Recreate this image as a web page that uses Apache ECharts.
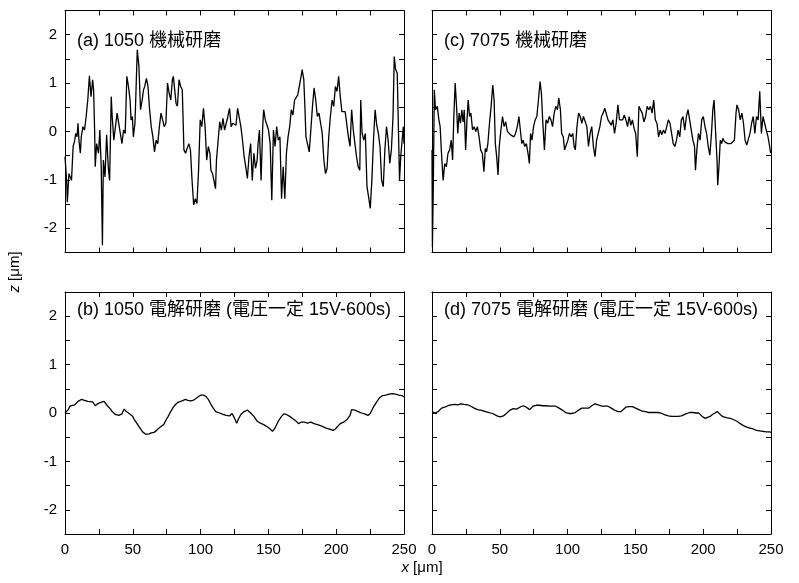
<!DOCTYPE html>
<html>
<head>
<meta charset="utf-8">
<script src="https://cdn.jsdelivr.net/npm/echarts@6/dist/echarts.min.js"></script>
<style>
html,body{margin:0;padding:0;background:#fff;}
#chart{width:799px;height:583px;}
</style>
</head>
<body>
<div id="chart"></div>
<script>
// Panel titles
const panelTitles = ['(a) 1050 機械研磨', '(c) 7075 機械研磨', '(b) 1050 電解研磨 (電圧一定 15V-600s)', '(d) 7075 電解研磨 (電圧一定 15V-600s)'];
const xTicks = [0, 50, 100, 150, 200, 250];
const yTicks = [-2, -1, 0, 1, 2];

// (a) 1050 mechanical polishing : [x (µm), z (µm)]
const profileA = [
[0,-0.52],[1.2,-1.01],[1.7,-1.46],[2.9,-0.87],[4.8,-1.01],[6.0,-0.31],[7.2,-0.18],[7.9,-0.04],[8.9,-0.11],[9.6,0.17],
[10.3,-0.18],[11.3,-0.45],[12.0,-0.11],[13.2,0.10],[14.4,0.03],[15.6,0.31],[16.8,0.65],[18.0,1.15],[19.2,0.72],[20.4,1.07],
[21.1,0.86],[21.9,-0.04],[22.3,-0.73],[23.3,-0.25],[24.7,-0.45],[25.7,0.03],[26.7,-0.73],[27.6,-2.35],[28.3,-0.59],[29.5,-0.94],
[30.7,-0.07],[31.9,-0.73],[32.9,-1.01],[34.1,0.72],[34.8,0.31],[36.0,-0.18],[37.2,0.10],[38.4,0.38],[39.6,0.41],[40.8,-0.04],
[42.0,-0.25],[43.2,0.03],[44.4,-0.04],[45.6,1.14],[46.8,0.93],[48.0,0.65],[48.7,0.24],[49.7,0.31],[50.4,-0.11],[51.6,0.17],
[52.3,0.79],[53.3,1.69],[54.5,1.35],[55.7,0.45],[56.9,0.65],[57.9,0.86],[58.8,0.93],[60.0,1.10],[61.2,0.93],[62.4,0.45],
[63.6,0.10],[64.8,-0.11],[66.0,-0.42],[67.2,-0.18],[68.4,-0.25],[69.6,0.10],[70.8,0.38],[72.0,0.24],[73.2,0.10],[74.4,0.17],
[75.6,1.00],[76.8,0.79],[78.0,0.65],[79.2,1.07],[79.9,1.14],[80.9,0.86],[81.9,0.58],[82.9,0.52],[84.1,1.07],[85.3,0.93],
[86.5,0.86],[87.7,-0.38],[88.9,-0.45],[90.1,-0.45],[91.3,-0.25],[92.5,-0.38],[93.7,-1.01],[94.9,-1.52],[96.1,-1.39],[97.3,-1.49],
[98.5,-0.80],[99.7,0.24],[100.9,0.10],[102.1,0.48],[103.3,0.10],[104.5,-0.59],[105.7,-0.31],[106.9,-0.45],[107.6,-0.80],[108.8,-0.87],
[109.8,-1.01],[111.0,-1.18],[111.7,-0.59],[114.1,0.20],[115.3,0.03],[116.5,0.27],[117.7,0.03],[118.9,0.17],[120.1,0.31],[121.3,0.48],
[122.5,0.10],[123.7,0.17],[124.9,0.20],[126.1,0.13],[127.3,0.48],[128.5,0.45],[129.7,0.10],[130.9,-0.18],[132.1,-0.52],[133.3,-0.73],
[134.5,-0.97],[135.7,-0.52],[136.9,-0.25],[138.1,-1.01],[139.3,-0.45],[140.5,-0.76],[141.7,-0.59],[142.4,-0.25],[143.4,0.03],[144.6,-1.01],
[145.8,0.10],[146.5,0.45],[147.7,0.24],[148.9,0.20],[150.1,0.03],[151.3,-0.25],[152.5,-1.42],[153.7,0.03],[154.9,-0.31],[156.1,0.10],
[157.3,-0.18],[158.5,-0.11],[159.7,-1.39],[160.9,-0.73],[162.1,-1.39],[163.3,-0.45],[164.5,-0.11],[165.7,0.10],[166.9,0.45],[168.1,0.34],
[169.3,0.65],[170.5,0.69],[171.7,0.76],[172.9,0.72],[174.1,1.14],[174.9,1.28],[176.1,1.07],[177.0,0.45],[177.7,-0.11],[178.9,-0.14],
[180.1,-0.42],[181.3,0.03],[182.5,0.52],[183.7,0.90],[184.9,0.65],[186.1,0.31],[187.3,0.38],[188.5,0.17],[189.7,-0.04],[190.9,-0.59],
[192.1,-0.87],[193.3,-0.76],[194.5,-0.11],[195.7,0.31],[197.0,0.65],[198.2,0.52],[199.4,0.93],[200.6,0.83],[201.8,1.14],[203.0,0.72],
[204.2,0.41],[205.4,0.45],[206.6,0.41],[207.8,0.38],[209.0,-0.11],[210.2,-0.31],[211.4,0.45],[212.6,0.03],[213.8,-0.25],[215.0,-0.52],
[216.2,-0.73],[217.4,-0.80],[218.1,0.65],[219.1,-0.04],[220.3,-0.18],[221.5,-0.04],[222.7,-1.14],[223.9,-1.35],[225.1,-1.59],[226.3,-1.01],
[227.5,-0.18],[228.7,0.45],[229.9,0.13],[231.1,-0.04],[232.3,-0.31],[233.5,-1.01],[234.7,-1.14],[235.9,-0.38],[237.1,0.10],[238.3,-0.18],
[239.5,-0.66],[240.7,-0.38],[241.9,0.31],[242.8,1.55],[243.8,1.28],[245.0,1.21],[245.7,0.31],[246.7,-1.01],[247.6,-0.52],[248.6,-0.18],
[249.5,0.10],[250.0,-0.25]
];

// (c) 7075 mechanical polishing
const profileC = [
[0,-0.38],[0.3,-2.39],[0.97,-1.14],[1.7,0.86],[2.6,0.45],[3.9,0.52],[5.1,0.24],[6.0,0.10],[7.0,-0.45],[8.2,-1.01],
[9.4,-0.66],[10.6,-0.73],[11.8,-0.45],[13.0,-0.38],[14.2,-0.18],[15.2,-0.59],[16.1,0.31],[17.1,1.00],[18.1,0.52],[19.0,-0.04],
[20.0,0.38],[21.0,0.17],[22.0,0.45],[22.9,0.20],[23.8,0.45],[24.8,-0.38],[25.8,0.24],[26.7,0.65],[27.7,0.31],[28.7,0.38],
[29.9,0.03],[31.1,0.10],[32.3,0.00],[33.5,0.10],[34.7,-0.11],[35.9,-0.38],[37.1,-0.45],[38.3,-0.83],[39.3,-0.35],[40.2,-0.42],
[41.2,-0.25],[42.4,0.17],[43.6,0.52],[44.8,0.96],[45.8,0.65],[46.7,-0.25],[47.7,-0.52],[48.7,-0.90],[49.6,-0.31],[50.8,0.03],
[52.0,0.31],[53.2,0.10],[54.4,0.20],[55.6,0.00],[56.8,-0.04],[58.0,-0.07],[59.2,-0.04],[60.4,-0.11],[61.6,-0.04],[62.9,0.10],
[64.1,0.31],[65.3,0.31],[66.2,-0.25],[67.2,-0.18],[68.4,-0.31],[69.6,-0.25],[70.8,-0.45],[71.8,-0.66],[72.7,-0.04],[73.7,-0.18],
[74.9,0.10],[76.1,0.24],[77.3,0.31],[78.5,0.65],[79.7,1.03],[80.7,0.79],[81.6,0.24],[82.9,-0.38],[84.1,0.24],[85.3,0.17],
[86.5,0.31],[87.7,0.24],[88.9,0.10],[90.1,0.38],[91.3,0.52],[92.5,0.45],[93.5,0.69],[94.7,0.45],[95.6,-0.04],[96.8,-0.11],
[97.8,-0.38],[99.0,-0.38],[100.2,-0.18],[101.4,-0.04],[102.6,-0.11],[103.8,-0.04],[104.8,-0.31],[105.7,-0.38],[106.9,0.10],[108.1,0.38],
[109.3,0.31],[110.5,0.17],[111.7,0.31],[112.9,0.34],[114.2,0.10],[115.4,-0.31],[116.6,-0.04],[117.8,0.10],[119.0,-0.31],[120.2,-0.52],
[121.4,-0.18],[122.6,-0.18],[123.8,0.10],[125.0,0.31],[126.2,0.38],[127.4,0.48],[128.6,0.52],[129.8,0.24],[131.0,0.20],[132.2,0.13],
[133.4,0.24],[134.6,-0.04],[135.8,0.17],[137.1,0.55],[138.3,0.24],[139.4,0.27],[140.6,0.24],[141.8,0.34],[143.0,0.24],[144.2,0.10],
[145.4,0.31],[146.6,0.13],[147.8,0.24],[149.0,0.07],[150.2,-0.04],[151.4,-0.52],[152.6,0.52],[153.8,0.45],[155.0,0.38],[156.3,0.20],
[157.5,0.31],[158.7,0.52],[159.9,0.45],[161.1,0.52],[162.3,0.38],[163.5,0.65],[164.7,0.24],[165.9,0.17],[167.1,-0.11],[168.3,0.03],
[169.5,-0.07],[170.7,0.03],[171.9,-0.04],[173.1,-0.04],[174.3,0.24],[175.5,0.17],[176.7,-0.04],[177.9,-0.25],[179.1,-0.31],[180.3,-0.18],
[181.5,0.03],[182.7,-0.11],[183.9,0.24],[185.1,0.31],[186.4,0.03],[187.6,0.31],[188.8,0.45],[190.0,0.24],[191.2,0.03],[192.4,-0.18],
[193.6,-0.31],[194.3,-0.80],[195.3,-0.38],[196.5,-0.04],[197.7,-0.18],[198.9,0.24],[200.1,0.31],[201.3,0.10],[202.5,-0.04],[203.7,-0.31],
[204.9,-0.49],[206.1,-0.04],[207.1,0.45],[208.0,0.65],[209.2,-0.04],[210.2,-0.59],[210.7,-1.11],[211.6,-0.73],[212.6,-0.18],[213.6,-0.25],
[214.5,-0.14],[215.7,-0.21],[216.9,-0.25],[218.1,-0.25],[219.3,-0.28],[220.5,-0.25],[221.8,-0.28],[223.0,-0.18],[224.2,0.38],[224.9,0.55],
[226.1,0.45],[227.3,0.24],[228.5,0.38],[229.7,0.17],[230.9,-0.18],[232.1,-0.28],[233.3,-0.25],[234.5,-0.04],[235.7,0.17],[236.9,0.31],
[238.1,-0.04],[239.3,0.31],[240.5,0.24],[241.7,0.83],[242.9,-0.04],[244.1,0.31],[245.3,0.17],[246.5,0.03],[247.8,-0.11],[249.0,-0.31],
[249.7,-0.45]
];

// (b) 1050 electropolished
const profileB = [
[0,0.00],[1.2,0.01],[2.4,0.07],[3.6,0.14],[4.8,0.15],[7.2,0.17],[8.4,0.21],[9.6,0.24],[10.8,0.26],[12.0,0.28],
[13.2,0.28],[14.4,0.26],[15.6,0.26],[16.8,0.24],[18.0,0.24],[20.4,0.23],[21.6,0.21],[22.3,0.15],[22.8,0.19],[24.0,0.19],
[25.2,0.21],[26.4,0.22],[27.6,0.24],[28.8,0.24],[30.0,0.21],[31.2,0.15],[32.4,0.12],[33.6,0.08],[34.8,0.03],[36.0,0.00],
[37.2,-0.03],[38.4,-0.05],[39.6,-0.05],[40.8,-0.04],[42.0,-0.02],[42.7,0.03],[43.7,0.08],[44.4,0.10],[45.2,0.03],[46.1,0.00],
[47.3,-0.01],[48.7,-0.03],[49.7,-0.06],[51.2,-0.14],[52.4,-0.19],[53.6,-0.24],[54.8,-0.29],[56.0,-0.34],[57.2,-0.39],[58.4,-0.43],
[59.6,-0.44],[60.8,-0.43],[62.0,-0.43],[63.6,-0.41],[65.6,-0.40],[67.2,-0.37],[68.9,-0.32],[70.8,-0.28],[72.8,-0.24],[74.4,-0.15],
[76.1,-0.07],[78.0,0.03],[79.9,0.12],[81.7,0.18],[83.3,0.22],[85.3,0.24],[87.2,0.26],[88.9,0.28],[90.5,0.26],[92.5,0.25],
[94.4,0.26],[96.1,0.29],[97.3,0.31],[98.5,0.34],[100.2,0.37],[102.1,0.37],[104.0,0.34],[105.7,0.28],[107.4,0.19],[109.3,0.10],
[111.2,0.03],[114.1,0.00],[116.5,-0.03],[118.9,-0.05],[121.3,-0.06],[123.2,-0.01],[124.9,-0.10],[126.6,-0.21],[128.0,-0.12],[129.7,-0.03],
[132.1,0.03],[134.5,0.06],[136.9,0.00],[139.3,-0.07],[141.7,-0.17],[144.1,-0.21],[146.5,-0.24],[148.9,-0.28],[151.3,-0.33],[153.0,-0.38],
[154.9,-0.31],[157.3,-0.17],[159.7,-0.07],[161.4,-0.02],[163.3,-0.03],[165.7,-0.07],[168.1,-0.12],[170.5,-0.17],[172.2,-0.22],[174.1,-0.19],
[176.5,-0.19],[178.9,-0.21],[181.3,-0.19],[183.7,-0.22],[186.1,-0.24],[188.5,-0.26],[190.9,-0.29],[193.3,-0.32],[195.7,-0.34],[197.7,-0.36],
[199.4,-0.33],[201.0,-0.28],[203.0,-0.22],[205.4,-0.19],[207.8,-0.14],[210.2,-0.05],[211.4,0.07],[212.1,0.03],[213.8,0.06],[216.2,0.03],
[218.6,0.00],[221.0,-0.02],[223.4,-0.05],[225.1,-0.01],[227.0,0.10],[229.4,0.21],[231.8,0.31],[234.2,0.36],[236.6,0.37],[239.0,0.39],
[241.4,0.40],[243.8,0.39],[246.2,0.37],[248.6,0.36],[250.0,0.33]
];

// (d) 7075 electropolished
const profileD = [
[0,0.03],[0.97,0.01],[2.2,0.00],[3.4,0.01],[4.6,0.03],[5.8,0.07],[7.0,0.10],[8.2,0.12],[9.4,0.12],[10.6,0.14],
[11.8,0.15],[13.0,0.16],[14.2,0.17],[15.4,0.17],[16.6,0.18],[17.8,0.19],[19.0,0.17],[20.2,0.17],[21.4,0.19],[22.6,0.17],
[23.8,0.18],[25.0,0.19],[26.3,0.17],[27.5,0.16],[28.7,0.14],[29.9,0.12],[31.1,0.10],[32.3,0.08],[33.5,0.07],[34.7,0.07],
[35.9,0.06],[37.1,0.05],[38.3,0.04],[39.5,0.03],[40.7,0.02],[41.9,0.01],[43.1,0.00],[44.3,-0.01],[45.5,-0.02],[46.7,-0.03],
[47.9,-0.06],[49.1,-0.07],[50.3,-0.08],[51.5,-0.08],[52.7,-0.06],[53.9,-0.03],[55.2,0.00],[56.4,0.03],[57.6,0.06],[58.8,0.07],
[60.0,0.09],[61.2,0.07],[62.4,0.08],[63.6,0.10],[64.8,0.12],[66.0,0.14],[67.2,0.15],[68.4,0.14],[69.6,0.12],[70.8,0.08],
[72.0,0.07],[73.2,0.10],[74.4,0.14],[75.6,0.15],[76.8,0.16],[79.2,0.16],[81.6,0.15],[84.1,0.15],[86.5,0.14],[88.9,0.14],
[91.3,0.14],[92.5,0.12],[93.7,0.10],[94.9,0.08],[96.1,0.06],[97.3,0.03],[98.5,0.01],[99.7,0.00],[100.9,-0.01],[102.1,-0.01],
[103.3,-0.01],[104.5,0.00],[105.7,0.01],[106.9,0.03],[108.1,0.06],[109.3,0.08],[110.5,0.10],[111.7,0.11],[112.9,0.10],[114.2,0.10],
[115.4,0.10],[116.6,0.12],[117.8,0.15],[119.0,0.17],[120.2,0.19],[121.4,0.18],[122.6,0.17],[123.8,0.15],[125.0,0.14],[126.2,0.14],
[127.4,0.14],[128.6,0.14],[129.8,0.14],[131.0,0.12],[132.2,0.10],[133.4,0.07],[134.6,0.06],[135.8,0.05],[137.1,0.03],[138.3,0.03],
[139.4,0.03],[140.6,0.07],[143.0,0.12],[145.4,0.13],[147.8,0.13],[150.2,0.10],[152.6,0.07],[155.0,0.04],[157.5,0.03],[159.9,0.01],
[162.3,0.01],[164.7,0.01],[167.1,0.01],[169.5,-0.01],[171.9,-0.04],[174.3,-0.06],[176.7,-0.07],[179.1,-0.07],[181.5,-0.07],[183.9,-0.06],
[186.4,-0.03],[187.6,0.00],[190.0,0.01],[192.4,0.01],[194.8,0.00],[196.7,0.00],[197.9,-0.04],[199.6,-0.08],[201.5,-0.11],[203.2,-0.09],
[205.1,-0.07],[206.8,-0.03],[208.7,0.00],[210.4,0.03],[211.6,-0.01],[213.6,-0.06],[215.2,-0.08],[217.7,-0.10],[220.1,-0.11],[222.5,-0.14],
[224.9,-0.17],[227.3,-0.22],[229.7,-0.26],[232.1,-0.29],[234.5,-0.31],[236.9,-0.33],[239.3,-0.36],[241.7,-0.37],[244.1,-0.38],[246.5,-0.39],
[249.0,-0.39],[250.0,-0.40]
];

const profiles = [profileA, profileC, profileB, profileD];

const FONT = "'Liberation Sans', Arimo, Arial, 'Noto Sans CJK JP', sans-serif";
const L = {
  lefts: [65, 432, 65, 432],
  tops: [10.5, 10.5, 292, 292],
  labelY: [41, 41, 310, 310],
  w: 339, h: 242
};

const chart = echarts.init(document.getElementById('chart'), null, {renderer: 'canvas'});

const grids = [], xAxes = [], yAxes = [], series = [], graphics = [];
const lineStyle = {color: '#000', width: 1};
for (let i = 0; i < 4; i++) {
  grids.push({left: L.lefts[i], top: L.tops[i], width: L.w, height: L.h, containLabel: false});
  const bottomRow = i >= 2, leftCol = (i % 2) === 0;
  const xBase = {
    type: 'value', gridIndex: i, min: 0, max: 250, interval: 25,
    axisLine: {show: true, onZero: false, lineStyle},
    axisTick: {show: true, inside: true, length: 5, lineStyle},
    splitLine: {show: false}
  };
  xAxes.push(Object.assign({}, xBase, {
    position: 'bottom',
    axisLabel: {show: bottomRow, color: '#000', fontFamily: FONT, fontSize: 15, margin: 8,
      formatter: v => xTicks.indexOf(v) >= 0 ? String(v) : ''}
  }));
  xAxes.push(Object.assign({}, xBase, {position: 'top', axisLabel: {show: false}}));
  const yBase = {
    type: 'value', gridIndex: i, min: -2.5, max: 2.5, interval: 0.5,
    axisLine: {show: true, onZero: false, lineStyle},
    axisTick: {show: true, inside: true, length: 5, lineStyle},
    splitLine: {show: false}
  };
  yAxes.push(Object.assign({}, yBase, {
    position: 'left',
    axisLabel: {show: leftCol, color: '#000', fontFamily: FONT, fontSize: 15, margin: 8,
      formatter: v => yTicks.indexOf(v) >= 0 ? String(v) : ''}
  }));
  yAxes.push(Object.assign({}, yBase, {position: 'right', axisLabel: {show: false}}));
  series.push({
    type: 'line', xAxisIndex: 2 * i, yAxisIndex: 2 * i, data: profiles[i],
    showSymbol: false, symbol: 'none', clip: true,
    lineStyle: {color: '#000', width: 1.3}, animation: false
  });
  graphics.push({
    type: 'text', x: L.lefts[i] + 12, y: L.labelY[i],
    style: {text: panelTitles[i], fill: '#000', font: '18px ' + FONT, verticalAlign: 'middle'}
  });
}

graphics.push({
  type: 'text', x: 15, y: 272, rotation: Math.PI / 2,
  style: {
    text: '{i|z} [μm]', align: 'center', verticalAlign: 'middle',
    rich: {i: {fontStyle: 'italic', fontFamily: FONT, fontSize: 15, fill: '#000'}},
    fontFamily: FONT, fontSize: 15, fill: '#000'
  }
});
graphics.push({
  type: 'text', x: 422, y: 568,
  style: {
    text: '{i|x} [μm]', align: 'center', verticalAlign: 'middle',
    rich: {i: {fontStyle: 'italic', fontFamily: FONT, fontSize: 15, fill: '#000'}},
    fontFamily: FONT, fontSize: 15, fill: '#000'
  }
});

chart.setOption({
  backgroundColor: '#fff',
  animation: false,
  grid: grids,
  xAxis: xAxes,
  yAxis: yAxes,
  series: series,
  graphic: graphics
});
</script>
</body>
</html>
